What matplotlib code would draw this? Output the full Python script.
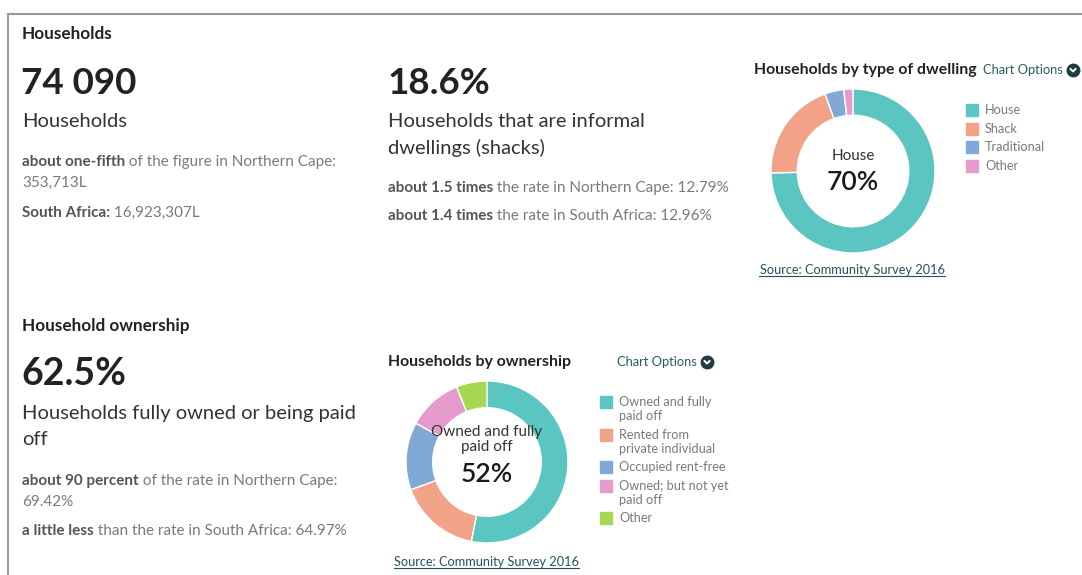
import matplotlib
matplotlib.use("Agg")
import matplotlib.pyplot as plt
from matplotlib.lines import Line2D
from matplotlib.patches import Rectangle

W, H = 1082, 575

# chart data
dwelling_labels = ['House', 'Shack', 'Traditional', 'Other']
dwelling_values = [70.0, 18.6, 3.5, 1.7]

ownership_labels = ['Owned and fully\npaid off', 'Rented from\nprivate individual',
                    'Occupied rent-free', 'Owned; but not yet\npaid off', 'Other']
ownership_values = [52.0, 16.0, 13.2, 10.7, 6.0]

colors = ['#5bc5c2', '#f2a286', '#80a9d6', '#e59ccc', '#a6d854']

DARK = '#222222'
TXT = '#333333'
GREY = '#7a7a7a'
GREY_B = '#555555'
LINK = '#2b5a60'

fig = plt.figure(figsize=(W / 100, H / 100), dpi=100)
fig.patch.set_facecolor('white')
r = fig.canvas.get_renderer()


def fx(x):
    return x / W


def fy(y):
    return 1 - y / H


def put(x, y, s, size, color=TXT, weight='normal', ha='left', va='baseline'):
    return fig.text(fx(x), fy(y), s, fontsize=size, color=color, fontweight=weight,
                    ha=ha, va=va, family=['Lato', 'DejaVu Sans'])


def rich(x, y, parts, size=11):
    # bold lead-in followed by regular text on the same baseline
    for s, weight, color in parts:
        t = put(x, y, s, size, color, weight)
        x += t.get_window_extent(renderer=r).width


def underlined(x, y, s, size=9.2, color='#24525a'):
    t = put(x, y, s, size, color, ha='center')
    bb = t.get_window_extent(renderer=r)
    fig.add_artist(Line2D([bb.x0 / W, bb.x1 / W], [fy(y + 2)] * 2, color=color, lw=0.8))


def chart_options(x, y, icon_x):
    put(x, y, 'Chart Options', 9.3, LINK, va='center')
    fig.add_artist(Line2D([fx(icon_x)], [fy(y)], marker='o', markersize=9,
                          color='#1d3d42', lw=0))
    fig.add_artist(Line2D([fx(icon_x - 2.5), fx(icon_x), fx(icon_x + 2.5)],
                          [fy(y - 1), fy(y + 1.5), fy(y - 1)], color='white', lw=1.4))


def donut(cx, cy, rad, width, values):
    ax = fig.add_axes([(cx - rad) / W, 1 - (cy + rad) / H, 2 * rad / W, 2 * rad / H])
    ax.pie(values, colors=colors[:len(values)], startangle=90, counterclock=False,
           radius=1, wedgeprops=dict(width=width, edgecolor='white', linewidth=1))
    ax.set_xlim(-1, 1)
    ax.set_ylim(-1, 1)
    ax.set_aspect('equal')
    ax.axis('off')


def legend(x, rows, labels):
    # rows: y centres of each legend line
    i = 0
    for k, lab in enumerate(labels):
        y = rows[i]
        fig.add_artist(Rectangle((fx(x), fy(y + 6)), 12 / W, 12 / H,
                                 transform=fig.transFigure, color=colors[k]))
        for line in lab.split('\n'):
            put(x + 19, rows[i], line, 9.15, GREY, va='center')
            i += 1


# frame
fig.add_artist(Line2D([fx(8), 1], [fy(14), fy(14)], color='#999999', lw=1.5))
fig.add_artist(Line2D([fx(8), fx(8)], [fy(14), 0], color='#999999', lw=1.5))

# ---- section 1: households
put(22, 39, 'Households', 12.3, DARK, 'bold')
put(21, 94, '74 090', 26.5, DARK, 'bold')
put(22, 127, 'Households', 14.5, TXT)
rich(22, 166, [('about one-fifth', 'bold', GREY_B),
               (' of the figure in Northern Cape:', 'normal', GREY)])
put(22, 187, '353,713L', 11, GREY)
rich(22, 217, [('South Africa:', 'bold', GREY_B), (' 16,923,307L', 'normal', GREY)])

put(388, 94, '18.6%', 26.5, DARK, 'bold')
put(388, 127, 'Households that are informal', 14.5, TXT)
put(388, 154, 'dwellings (shacks)', 14.5, TXT)
rich(388, 192, [('about 1.5 times', 'bold', GREY_B),
                (' the rate in Northern Cape: 12.79%', 'normal', GREY)])
rich(388, 220, [('about 1.4 times', 'bold', GREY_B),
                (' the rate in South Africa: 12.96%', 'normal', GREY)])

put(754, 74, 'Households by type of dwelling', 11.4, DARK, 'bold')
chart_options(983, 70, 1073)
donut(853, 171, 82, 0.32, dwelling_values)
put(853, 156, dwelling_labels[0], 11, TXT, ha='center', va='center')
put(853, 182, '%d%%' % round(dwelling_values[0]), 19, '#1a1a1a', 'semibold',
    ha='center', va='center')
legend(966, [110, 129, 147, 166], dwelling_labels)
underlined(852, 274, 'Source: Community Survey 2016')

# ---- section 2: ownership
put(22, 331, 'Household ownership', 12.3, DARK, 'bold')
put(21, 385, '62.5%', 27, DARK, 'bold')
put(22, 419, 'Households fully owned or being paid', 14.5, TXT)
put(22, 445, 'off', 14.5, TXT)
rich(22, 485, [('about 90 percent', 'bold', GREY_B),
               (' of the rate in Northern Cape:', 'normal', GREY)])
put(22, 506, '69.42%', 11, GREY)
rich(22, 535, [('a little less', 'bold', GREY_B),
               (' than the rate in South Africa: 64.97%', 'normal', GREY)])

put(388, 366, 'Households by ownership', 11.4, DARK, 'bold')
chart_options(617, 362, 707)
donut(487, 462, 81, 0.33, ownership_values)
put(487, 432, 'Owned and fully', 11, TXT, ha='center', va='center')
put(487, 447, 'paid off', 11, TXT, ha='center', va='center')
put(487, 474, '%d%%' % round(ownership_values[0]), 19, '#1a1a1a', 'semibold',
    ha='center', va='center')
legend(600, [402, 416, 435, 449, 467, 486, 500, 518], ownership_labels)
underlined(486, 566, 'Source: Community Survey 2016')

fig.savefig('out.png', dpi=100, facecolor='white')
